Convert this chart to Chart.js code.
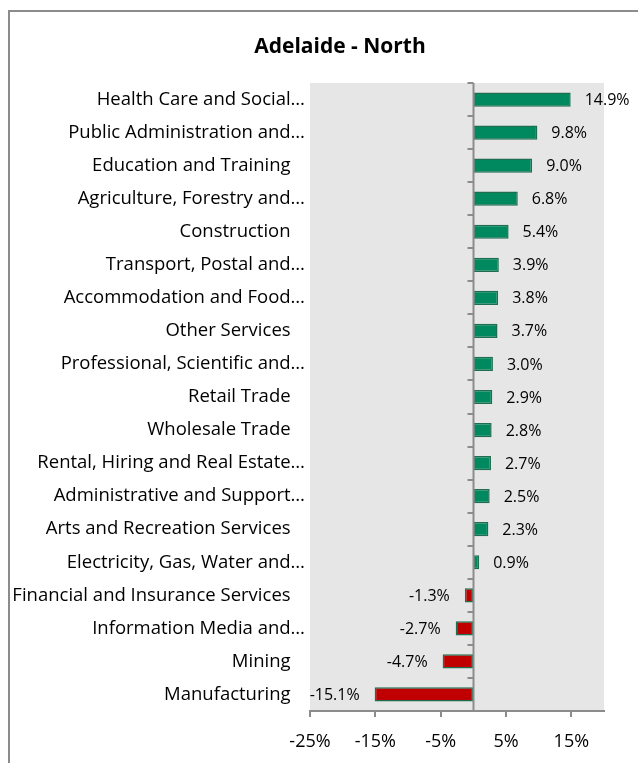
<!DOCTYPE html>
<html>
<head>
<meta charset="utf-8">
<script src="https://cdn.jsdelivr.net/npm/chart.js@4"></script>
<style>
  body { margin: 0; background: #fff; }
  #marco { position: absolute; left: 8px; top: 10px; width: 700px; height: 800px;
           border-left: 2px solid #8c8c8c; border-top: 2px solid #8c8c8c; }
  #wrap { position: absolute; left: 0; top: 0; width: 638px; height: 763px; }
</style>
</head>
<body>
<div id="marco"></div>
<div id="wrap"><canvas id="chart" width="638" height="763"></canvas></div>
<script>
var titulo = "Adelaide - North";
var categorias = [
  "Health Care and Social\u2026",
  "Public Administration and\u2026",
  "Education and Training   ",
  "Agriculture, Forestry and\u2026",
  "Construction   ",
  "Transport, Postal and\u2026",
  "Accommodation and Food\u2026",
  "Other Services   ",
  "Professional, Scientific and\u2026",
  "Retail Trade   ",
  "Wholesale Trade   ",
  "Rental, Hiring and Real Estate\u2026",
  "Administrative and Support\u2026",
  "Arts and Recreation Services   ",
  "Electricity, Gas, Water and\u2026",
  "Financial and Insurance Services   ",
  "Information Media and\u2026",
  "Mining   ",
  "Manufacturing   "
];
var valores = [14.9, 9.8, 9.0, 6.8, 5.4, 3.9, 3.8, 3.7, 3.0, 2.9, 2.8, 2.7, 2.5, 2.3, 0.9, -1.3, -2.7, -4.7, -15.1];
var ticksX = [-25, -15, -5, 5, 15];
var minX = -25;
var maxX = 20;

var fuente = "'Open Sans', sans-serif";
var gris = "#8c8c8c";

// fondo gris del area de trazado + titulo
var fondoPlot = {
  id: "fondoPlot",
  beforeDraw: function(chart){
    var ca = chart.chartArea;
    var ctx = chart.ctx;
    ctx.save();
    ctx.fillStyle = "#e6e6e6";
    ctx.fillRect(ca.left, ca.top, ca.right - ca.left, ca.bottom - ca.top);
    ctx.fillStyle = "#000";
    ctx.font = "bold 21px " + fuente;
    ctx.textAlign = "center";
    ctx.textBaseline = "middle";
    ctx.fillText(titulo, 340, 47);
    ctx.restore();
  }
};

// eje vertical en cero con marcas entre categorias, y etiquetas de valor
var ejeCero = {
  id: "ejeCero",
  afterDatasetsDraw: function(chart){
    var ctx = chart.ctx;
    var ca = chart.chartArea;
    var sx = chart.scales.x;
    var sy = chart.scales.y;
    var x0 = Math.round(sx.getPixelForValue(0)) + 0.5;
    ctx.save();
    ctx.strokeStyle = gris;
    ctx.lineWidth = 2;
    ctx.beginPath();
    ctx.moveTo(x0, ca.top);
    ctx.lineTo(x0, ca.bottom);
    for (var i = 0; i <= categorias.length; i++) {
      var y = (i == categorias.length) ? ca.bottom : sy.getPixelForValue(i - 0.5);
      y = Math.round(y);
      ctx.moveTo(x0 - 6, y);
      ctx.lineTo(x0, y);
    }
    ctx.stroke();

    ctx.fillStyle = "#000";
    ctx.font = "16px " + fuente;
    ctx.textBaseline = "middle";
    var meta = chart.getDatasetMeta(0);
    meta.data.forEach(function(bar, i){
      var v = valores[i];
      var txt = v.toFixed(1) + "%";
      if (v >= 0) {
        ctx.textAlign = "left";
        ctx.fillText(txt, bar.x + 14, bar.y + 1);
      } else {
        ctx.textAlign = "right";
        ctx.fillText(txt, bar.x - 15, bar.y + 1);
      }
    });
    ctx.restore();
  }
};

var canvas = document.getElementById("chart").getContext("2d");
window.barras = new Chart(canvas, {
  type: "bar",
  data: {
    labels: categorias,
    datasets: [{
      data: valores,
      backgroundColor: valores.map(function(v){ return v < 0 ? "#c00000" : "#00895f"; }),
      borderColor: "#1f6e50",
      borderWidth: 1.5,
      borderSkipped: false,
      categoryPercentage: 1,
      barPercentage: 0.43
    }]
  },
  options: {
    indexAxis: "y",
    responsive: false,
    animation: false,
    layout: { padding: { left: 4, right: 34, top: 83, bottom: 0 } },
    plugins: {
      legend: { display: false },
      tooltip: { enabled: false },
      title: { display: false }
    },
    scales: {
      x: {
        min: minX,
        max: maxX,
        afterBuildTicks: function(scale){
          scale.ticks = ticksX.map(function(v){ return { value: v }; });
        },
        afterFit: function(scale){ scale.height = 52; },
        grid: { drawOnChartArea: false, drawTicks: true, tickLength: 6, color: gris, lineWidth: 2 },
        border: { display: true, color: gris, width: 2 },
        ticks: {
          color: "#000",
          font: { family: fuente, size: 18 },
          padding: 14,
          maxRotation: 0,
          callback: function(v){ return v + "%"; }
        }
      },
      y: {
        afterFit: function(scale){ scale.width = 306; },
        grid: { display: false },
        border: { display: false },
        ticks: {
          color: "#000",
          font: { family: fuente, size: 18.5 },
          padding: -3,
          autoSkip: false
        }
      }
    }
  },
  plugins: [fondoPlot, ejeCero]
});
</script>
</body>
</html>
